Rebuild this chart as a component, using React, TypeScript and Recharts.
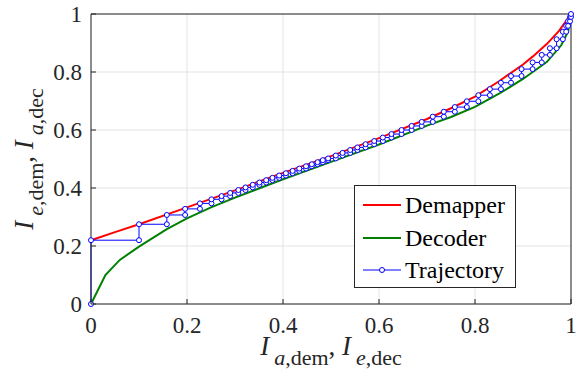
import { ComposedChart, Line, XAxis, YAxis, CartesianGrid, Legend } from 'recharts';

// Demapper EXIT curve (I_a,dem -> I_e,dem)
const demapperX = [0, 0.05, 0.1, 0.2, 0.3, 0.4, 0.5, 0.6, 0.7, 0.75, 0.8, 0.85, 0.9, 0.92, 0.95, 0.975, 1];
const demapperY = [0.22, 0.248, 0.275, 0.333, 0.392, 0.452, 0.51, 0.572, 0.638, 0.675, 0.715, 0.768, 0.826, 0.853, 0.897, 0.942, 1];

// Decoder EXIT curve, inverted axes (I_e,dec -> I_a,dec)
const decoderX = [0, 0.03, 0.06, 0.1, 0.158, 0.2, 0.25, 0.3, 0.4, 0.5, 0.6, 0.7, 0.75, 0.8, 0.85, 0.9, 0.95, 0.98, 0.994, 1];
const decoderY = [0, 0.1, 0.152, 0.198, 0.258, 0.295, 0.333, 0.367, 0.43, 0.49, 0.55, 0.615, 0.645, 0.68, 0.725, 0.776, 0.835, 0.893, 0.94, 1];

// decoding trajectory: x of each vertical step and the y it climbs to
const trajStartY = 0;
const stepX = [
  0, 0.1, 0.158, 0.196, 0.227, 0.251, 0.272, 0.29, 0.307, 0.322, 0.337, 0.351, 0.365, 0.378, 0.392, 0.406, 0.42,
  0.434, 0.448, 0.46, 0.472, 0.483, 0.494, 0.51, 0.524, 0.54, 0.555, 0.572, 0.59, 0.608, 0.626, 0.647, 0.668,
  0.689, 0.712, 0.735, 0.758, 0.783, 0.807, 0.831, 0.854, 0.875, 0.897, 0.92, 0.939, 0.956, 0.97, 0.983, 0.99,
  0.994, 0.998, 1,
];
const stepTop = [
  0.22, 0.275, 0.307, 0.328, 0.347, 0.361, 0.372, 0.383, 0.393, 0.402, 0.411, 0.419, 0.427, 0.435, 0.443, 0.451,
  0.459, 0.467, 0.475, 0.482, 0.489, 0.496, 0.502, 0.512, 0.521, 0.531, 0.54, 0.551, 0.562, 0.574, 0.586, 0.6,
  0.614, 0.628, 0.646, 0.663, 0.679, 0.699, 0.72, 0.741, 0.763, 0.786, 0.81, 0.833, 0.859, 0.882, 0.913, 0.939,
  0.959, 0.975, 0.99, 1,
];

const ticks = [0, 0.2, 0.4, 0.6, 0.8, 1];
const seriesNames = ['Demapper', 'Decoder', 'Trajectory'];

const demapper = demapperX.map((x, i) => ({ x, y: demapperY[i] }));
const decoder = decoderX.map((x, i) => ({ x, y: decoderY[i] }));
const trajectory = stepX.flatMap((x, i) => [
  { x, y: i === 0 ? trajStartY : stepTop[i - 1] },
  { x, y: stepTop[i] },
]);

const FONT = '"Liberation Serif", "Times New Roman", serif';
const INK = '#262626';
const RED = '#ff0000';
const GREEN = '#008000';
const BLUE = '#0000ff';
const colors = [RED, GREEN, BLUE];

const BottomTick = ({ x, y, payload }: any) => (
  <g>
    <line x1={x} x2={x} y1={y} y2={y - 5} stroke={INK} />
    <text x={x} y={y + 29} textAnchor="middle" fontFamily={FONT} fontSize={23} fill={INK}>
      {String(payload.value)}
    </text>
  </g>
);

const LeftTick = ({ x, y, payload }: any) => (
  <g>
    <line x1={x} x2={x + 5} y1={y} y2={y} stroke={INK} />
    <text x={x - 9} y={y + 8} textAnchor="end" fontFamily={FONT} fontSize={23} fill={INK}>
      {String(payload.value)}
    </text>
  </g>
);

const TopTick = ({ x, y }: any) => <line x1={x} x2={x} y1={y} y2={y + 5} stroke={INK} />;
const RightTick = ({ x, y }: any) => <line x1={x} x2={x - 5} y1={y} y2={y} stroke={INK} />;

const XLabel = ({ viewBox }: any) => {
  const cx = viewBox.x + viewBox.width / 2;
  return (
    <text x={cx} y={viewBox.y + 51} textAnchor="middle" fontFamily={FONT} fill={INK}>
      <tspan fontSize={27} fontStyle="italic">I</tspan>
      <tspan fontSize={22} dx={5} dy={10}>
        <tspan fontStyle="italic">a</tspan>,dem
      </tspan>
      <tspan fontSize={27} dy={-10}>, </tspan>
      <tspan fontSize={27} fontStyle="italic">I</tspan>
      <tspan fontSize={22} dx={5} dy={10}>
        <tspan fontStyle="italic">e</tspan>,dec
      </tspan>
    </text>
  );
};

const YLabel = ({ viewBox }: any) => {
  const x = viewBox.x + viewBox.width - 58;
  const y = viewBox.y + viewBox.height / 2;
  return (
    <text x={x} y={y} transform={`rotate(-90, ${x}, ${y})`} textAnchor="middle" fontFamily={FONT} fill={INK}>
      <tspan fontSize={27} fontStyle="italic">I</tspan>
      <tspan fontSize={22} dx={5} dy={10}>
        <tspan fontStyle="italic">e</tspan>,dem
      </tspan>
      <tspan fontSize={27} dy={-10}>, </tspan>
      <tspan fontSize={27} fontStyle="italic">I</tspan>
      <tspan fontSize={22} dx={5} dy={10}>
        <tspan fontStyle="italic">a</tspan>,dec
      </tspan>
    </text>
  );
};

const LegendBox = () => (
  <div
    style={{
      width: 162,
      height: 103,
      boxSizing: 'border-box',
      border: `1px solid ${INK}`,
      background: '#fff',
      paddingTop: 3,
      fontFamily: FONT,
      fontSize: 24,
      color: '#000',
    }}
  >
    {seriesNames.map((name, i) => (
      <div key={name} style={{ display: 'flex', alignItems: 'center', height: 32.5 }}>
        <svg width={50} height={12} style={{ flexShrink: 0 }}>
          <line x1={8} x2={46} y1={6} y2={6} stroke={colors[i]} strokeWidth={i === 2 ? 1 : 2} />
          {i === 2 && <circle cx={27} cy={6} r={2.5} fill="#fff" stroke={BLUE} strokeWidth={1} />}
        </svg>
        <span style={{ lineHeight: 1 }}>{name}</span>
      </div>
    ))}
  </div>
);

export default function App() {
  return (
    <div style={{ position: 'absolute', left: 0, top: 0, width: 577, height: 369, background: '#fff' }}>
      <ComposedChart width={577} height={369} margin={{ top: 13, right: 5, left: 31, bottom: 35 }}>
        <CartesianGrid stroke="#e3e3e3" strokeWidth={1} />
        <XAxis
          dataKey="x"
          type="number"
          domain={[0, 1]}
          ticks={ticks}
          height={30}
          tickSize={0}
          tickMargin={0}
          tick={BottomTick}
          tickLine={false}
          axisLine={{ stroke: INK }}
          label={XLabel}
        />
        <XAxis
          xAxisId="top"
          orientation="top"
          type="number"
          domain={[0, 1]}
          ticks={ticks}
          height={1}
          tickSize={0}
          tickMargin={0}
          tick={TopTick}
          tickLine={false}
          axisLine={{ stroke: INK }}
        />
        <YAxis
          type="number"
          domain={[0, 1]}
          ticks={ticks}
          width={60}
          tickSize={0}
          tickMargin={0}
          tick={LeftTick}
          tickLine={false}
          axisLine={{ stroke: INK }}
          label={YLabel}
        />
        <YAxis
          yAxisId="right"
          orientation="right"
          type="number"
          domain={[0, 1]}
          ticks={ticks}
          width={1}
          tickSize={0}
          tickMargin={0}
          tick={RightTick}
          tickLine={false}
          axisLine={{ stroke: INK }}
        />
        <Line
          data={demapper}
          dataKey="y"
          name={seriesNames[0]}
          type="linear"
          stroke={RED}
          strokeWidth={2}
          dot={false}
          isAnimationActive={false}
        />
        <Line
          data={decoder}
          dataKey="y"
          name={seriesNames[1]}
          type="linear"
          stroke={GREEN}
          strokeWidth={2}
          dot={false}
          isAnimationActive={false}
        />
        <Line
          data={trajectory}
          dataKey="y"
          name={seriesNames[2]}
          type="linear"
          stroke={BLUE}
          strokeWidth={1}
          dot={{ r: 2.5, fill: '#fff', stroke: BLUE, strokeWidth: 1 }}
          isAnimationActive={false}
        />
        <Legend
          layout="vertical"
          align="center"
          verticalAlign="middle"
          content={LegendBox}
          wrapperStyle={{ left: 354, top: 185, width: 162, height: 103 }}
        />
      </ComposedChart>
    </div>
  );
}
